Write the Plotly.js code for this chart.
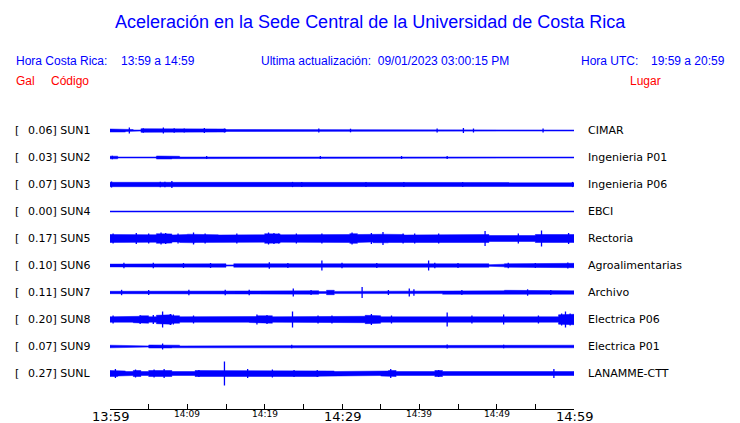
<!DOCTYPE html>
<html><head><meta charset="utf-8">
<script src="https://cdn.plot.ly/plotly-3.0.1.min.js"></script>
<style>html,body{margin:0;padding:0;background:#fff}#c{width:740px;height:423px}</style>
</head><body><div id="c"></div>
<script>
// ---- data ----
const codes  = ["SUN1","SUN2","SUN3","SUN4","SUN5","SUN6","SUN7","SUN8","SUN9","SUNL"];
const gal    = ["0.06","0.03","0.07","0.00","0.17","0.10","0.11","0.20","0.07","0.27"];
const places = ["CIMAR","Ingenieria P01","Ingenieria P06","EBCI","Rectoria","Agroalimentarias","Archivo","Electrica P06","Electrica P01","LANAMME-CTT"];
const tickMinutes = [0,5,10,15,20,25,30,35,40,45,50,55,60];
const majorLabels = ["13:59","14:29","14:59"], majorAt = [0,30,60];
const minorLabels = ["14:09","14:19","14:39","14:49"], minorAt = [10,20,40,50];

// per-minute envelope half-amplitude of each trace (display units)
const env_SUN1 = [1.5,1.5,1.0,0.5,1.8,1.8,1.8,1.6,1.2,1.6,1.8,1.6,1.8,1.6,1.5,1.0,0.8,0.9,1.0,1.0,0.8,0.9,0.6,1.0,1.0,0.9,0.8,1.0,0.6,0.6,0.5,0.8,0.9,0.9,0.6,0.8,0.6,0.9,1.0,0.9,1.0,0.8,0.9,0.5,0.5,0.6,1.2,1.2,1.0,0.5,0.9,0.6,0.8,0.9,0.9,0.9,1.0,0.9,0.9,0.5];
const env_SUN2 = [1.3,0.5,0.5,0.5,0.5,0.5,1.5,1.5,1.2,0.5,0.5,0.5,0.5,0.5,0.5,0.5,0.5,0.5,0.5,0.5,0.5,0.5,0.5,0.5,0.5,0.5,0.5,0.5,0.5,0.5,0.5,0.5,0.5,0.5,0.5,0.5,0.5,0.5,0.5,0.5,0.5,0.5,0.5,0.5,0.5,0.5,0.5,0.5,0.5,0.5,0.5,0.5,0.5,0.5,0.5,0.5,0.5,0.5,0.5,0.5];
const env_SUN3 = [2.2,2.0,2.0,2.0,2.0,2.0,2.4,2.4,2.2,2.0,2.0,2.0,2.0,2.0,2.0,2.0,2.0,2.0,2.0,2.0,2.0,2.0,2.0,2.0,2.0,2.0,2.0,2.0,2.0,2.0,2.0,2.0,2.0,2.0,2.0,2.0,2.0,2.0,2.0,2.0,2.0,2.0,2.0,2.0,2.0,2.0,2.0,2.0,2.0,2.0,2.0,2.0,2.0,2.0,2.0,2.0,2.0,2.0,2.0,2.0];
const env_SUN4 = [0.5,0.5,0.5,0.5,0.5,0.5,0.5,0.5,0.5,0.5,0.5,0.5,0.5,0.5,0.5,0.5,0.5,0.5,0.5,0.5,0.5,0.5,0.5,0.5,0.5,0.5,0.5,0.5,0.5,0.5,0.5,0.5,0.5,0.5,0.5,0.5,0.5,0.5,0.5,0.5,0.5,0.5,0.5,0.5,0.5,0.5,0.5,0.5,0.5,0.5,0.5,0.5,0.5,0.5,0.5,0.5,0.5,0.5,0.5,0.5];
const env_SUN5 = [4.0,3.8,3.5,4.0,4.0,3.7,4.8,4.6,3.5,4.0,4.3,4.0,3.7,3.7,3.5,3.7,4.0,4.0,3.5,3.7,4.8,4.6,3.7,3.5,3.8,3.5,3.3,4.0,4.0,3.5,4.0,4.8,4.0,3.5,4.2,4.3,4.0,4.0,3.5,4.0,3.8,3.5,3.8,3.5,3.3,3.5,3.3,3.3,4.0,3.0,3.0,3.3,3.5,3.3,3.0,4.0,3.5,3.3,4.0,4.0];
const env_SUN6 = [1.4,1.7,1.7,1.7,1.7,1.7,1.7,1.7,1.7,1.7,1.7,1.7,1.7,1.7,1.7,0.6,1.7,1.7,1.7,1.7,1.8,1.7,1.7,1.7,1.7,1.7,1.7,1.7,1.7,1.7,1.7,1.7,1.7,1.7,1.7,1.7,1.7,1.7,1.7,1.7,1.7,1.7,1.7,1.7,1.7,1.7,1.7,1.7,1.7,0.8,1.3,1.7,1.7,1.7,1.7,1.7,1.7,1.7,1.7,2.2];
const env_SUN7 = [1.2,1.2,1.4,1.2,1.2,1.5,1.7,1.7,1.7,1.7,1.7,1.7,1.7,1.7,1.7,1.7,1.7,1.7,1.7,1.7,1.7,1.7,1.7,1.7,1.7,1.7,1.7,0.9,2.2,1.1,1.7,1.7,1.7,1.7,1.7,1.7,1.7,1.7,1.7,1.7,1.7,1.7,1.1,1.7,1.7,1.7,1.7,1.7,1.7,1.7,1.7,2.2,1.7,1.7,1.7,1.7,1.7,1.7,1.7,1.7];
const env_SUN8 = [2.7,2.7,2.7,3.2,3.7,2.7,4.2,4.7,3.7,2.7,2.7,2.7,2.7,2.7,2.7,2.7,2.7,2.7,3.0,3.7,3.7,2.7,2.7,3.2,2.7,2.7,2.5,2.7,2.7,2.7,2.5,2.7,3.2,4.2,3.7,2.7,2.7,2.7,2.7,2.7,2.5,2.7,2.7,2.7,2.5,2.7,2.7,2.5,2.7,2.7,2.7,2.7,2.7,2.5,2.7,2.7,2.7,2.7,4.7,5.2];
const env_SUN9 = [1.3,0.9,0.6,0.6,0.6,1.5,1.5,1.5,1.3,0.6,1.2,0.9,1.0,0.6,1.2,1.1,0.6,0.6,1.3,1.3,1.2,0.6,0.6,1.2,0.6,0.6,1.0,1.0,0.6,0.6,0.6,0.6,0.6,1.2,0.6,1.2,0.6,1.0,0.6,0.6,1.0,0.6,1.0,0.6,0.6,0.6,0.6,1.2,0.6,0.6,1.0,1.2,0.6,1.0,1.0,1.0,0.6,0.6,1.3,1.3];
const env_SUNL = [3.0,2.5,2.0,3.0,2.0,3.0,3.0,3.0,2.0,2.0,2.0,3.0,3.0,2.3,3.0,2.7,3.0,3.0,2.7,3.0,3.0,3.0,3.0,3.0,2.5,3.0,3.0,2.7,2.5,2.0,2.0,2.0,2.0,2.0,2.0,2.5,3.0,2.0,2.0,2.0,2.0,2.0,3.0,2.0,2.0,2.0,2.0,2.0,2.0,2.0,2.0,2.0,2.0,2.0,2.0,2.0,2.0,2.5,2.0,2.0];

// isolated peaks: minute after 13:59 and half-amplitude
const pkT_SUN1 = [2.5,4.3,6.9,8.3,9.6,12.2,14.8,27.0,31.1,42.3,45.7,47.0,56.0];   const pkA_SUN1 = [3,2.2,3,2.2,2,2.5,2,2,1.8,2,2.5,2,2];
const pkT_SUN2 = [0.3,12.5,27.2,37.7,43.6];                      const pkA_SUN2 = [1.8,1.5,1.5,1.5,1.5];
const pkT_SUN3 = [0.2,6.5,7.1,8.0,23.6,24.8,33.1,38.0,45.6,59.8];     const pkA_SUN3 = [3,2.8,2.8,3.4,2.6,2.6,2.6,2.6,2.4,2.6];
const pkT_SUN4 = [];                                         const pkA_SUN4 = [];
const pkT_SUN5 = [0.4,3.4,5.0,6.6,7.2,8.8,10.8,12.3,16.4,20.5,21.2,21.8,24.1,27.4,31.3,33.8,35.3,37.9,39.4,42.5,48.5,52.8,55.8,59.3];
const pkA_SUN5 = [5,5.5,5,6,5.5,5,6,5,5,6,5.5,5,5,5,6,5.5,6.5,5,5,5,7.5,5,8,5.5];
const pkT_SUN6 = [1.8,5.6,9.5,13.0,20.6,23.0,27.4,30.0,34.5,41.2,42.0,45.0,51.5,55.0,59.2]; const pkA_SUN6 = [2.7,2.7,2.5,2.5,3.2,2.5,5,2.7,2.5,5,2.7,2.5,2.7,2.5,3];
const pkT_SUN7 = [1.5,5.0,10.2,14.9,18.0,23.7,26.0,32.6,36.0,38.7,39.3,45.5,54.0,57.0]; const pkA_SUN7 = [2.7,2.5,2.7,2.8,2.7,4,2.5,5.5,2.5,4,3.2,2.5,3.2,2.5];
const pkT_SUN8 = [0.4,3.9,5.6,6.8,7.8,8.2,10.8,19.0,20.3,23.6,26.9,28.7,33.8,36.4,43.6,46.8,50.9,55.4,58.4,58.9,59.5];
const pkA_SUN8 = [4,4.5,4.5,8,5.5,5,4,5,4.5,8,4,4,5.5,4,7,4,5,4,6,8,6];
const pkT_SUN9 = [6.8,23.5,43.6,50.9];                       const pkA_SUN9 = [3,1.8,2,1.8];
const pkT_SUNL = [0.7,3.3,5.7,7.0,11.5,14.8,17.8,21.0,23.8,26.8,36.3,42.5,57.4]; const pkA_SUNL = [4.5,4,4,4.5,3.5,12,4.5,4,3.5,3.5,4.5,3.5,4.5];

const envs = [env_SUN1,env_SUN2,env_SUN3,env_SUN4,env_SUN5,env_SUN6,env_SUN7,env_SUN8,env_SUN9,env_SUNL];
const pkTs = [pkT_SUN1,pkT_SUN2,pkT_SUN3,pkT_SUN4,pkT_SUN5,pkT_SUN6,pkT_SUN7,pkT_SUN8,pkT_SUN9,pkT_SUNL];
const pkAs = [pkA_SUN1,pkA_SUN2,pkA_SUN3,pkA_SUN4,pkA_SUN5,pkA_SUN6,pkA_SUN7,pkA_SUN8,pkA_SUN9,pkA_SUNL];

// ---- build ----
const W=740,H=423, L=110, R=574, T=115, B=409;
const rowTop = 130.5, rowGap = 27;
const BLUE = "#0000ff";
const px2x = p => (p - L)/(R - L);
const py2y = p => (B - p)/(B - T);

const traces = [];
envs.forEach((a, i) => {
  const c = rowTop + rowGap*i;
  const xs=[], ys=[];
  for (let m=0;m<a.length;m++){ xs.push(m, m+1); ys.push(c-a[m], c-a[m]); }
  for (let m=a.length-1;m>=0;m--){ xs.push(m+1, m); ys.push(c+a[m], c+a[m]); }
  xs.push(xs[0]); ys.push(ys[0]);
  traces.push({type:"scatter", mode:"lines", x:xs, y:ys, fill:"toself", fillcolor:BLUE,
               line:{color:BLUE, width:0.5}, hoverinfo:"skip", showlegend:false});
  const sx=[], sy=[];
  pkTs[i].forEach((t,k)=>{ sx.push(t,t,null); sy.push(c-pkAs[i][k], c+pkAs[i][k], null); });
  if (sx.length) traces.push({type:"scatter", mode:"lines", x:sx, y:sy, line:{color:BLUE, width:1.3},
               hoverinfo:"skip", showlegend:false});
});

const ann = [];
const A = (o) => ann.push(Object.assign({showarrow:false, xref:"paper", yref:"paper", borderpad:0}, o));
const HF = {family:"Liberation Sans, Arial, sans-serif", size:12, color:BLUE};
const RF = {family:"Liberation Sans, Arial, sans-serif", size:12, color:"#ff0000"};
const LF = {family:"DejaVu Sans, sans-serif", size:11, color:"#000"};

A({x:px2x(370), y:py2y(22), text:"Aceleración en la Sede Central de la Universidad de Costa Rica",
   xanchor:"center", yanchor:"middle", font:{family:"Liberation Sans, Arial, sans-serif", size:18, color:BLUE}});
A({x:px2x(15), y:py2y(61), text:"Hora Costa Rica:", xanchor:"left", yanchor:"middle", font:HF});
A({x:px2x(120), y:py2y(61), text:"13:59 a 14:59", xanchor:"left", yanchor:"middle", font:HF});
A({x:px2x(260), y:py2y(61), text:"Ultima actualización:  09/01/2023 03:00:15 PM", xanchor:"left", yanchor:"middle", font:HF});
A({x:px2x(580), y:py2y(61), text:"Hora UTC:", xanchor:"left", yanchor:"middle", font:HF});
A({x:px2x(650), y:py2y(61), text:"19:59 a 20:59", xanchor:"left", yanchor:"middle", font:HF});
A({x:px2x(15), y:py2y(81), text:"Gal", xanchor:"left", yanchor:"middle", font:RF});
A({x:px2x(50), y:py2y(81), text:"Código", xanchor:"left", yanchor:"middle", font:RF});
A({x:px2x(629), y:py2y(81), text:"Lugar", xanchor:"left", yanchor:"middle", font:RF});

codes.forEach((cd,i)=>{
  const yy = py2y(rowTop + rowGap*i);
  A({x:px2x(14), y:yy, text:"[", xanchor:"left", yanchor:"middle", font:LF});
  A({x:px2x(27), y:yy, text:gal[i]+"] "+cd, xanchor:"left", yanchor:"middle", font:LF});
  A({x:px2x(587), y:yy, text:places[i], xanchor:"left", yanchor:"middle", font:LF});
});
majorLabels.forEach((t,k)=>A({xref:"x", x:majorAt[k], y:py2y(416), text:t, xanchor:"center", yanchor:"middle",
   font:{family:"DejaVu Sans, sans-serif", size:13, color:"#000"}}));
minorLabels.forEach((t,k)=>A({xref:"x", x:minorAt[k], y:py2y(414), text:t, xanchor:"center", yanchor:"middle",
   font:{family:"DejaVu Sans, sans-serif", size:9, color:"#000"}}));

const layout = {
  width:W, height:H, margin:{l:L, r:W-R, t:T, b:H-B, pad:0},
  paper_bgcolor:"#fff", plot_bgcolor:"#fff", showlegend:false,
  xaxis:{range:[0,60], showgrid:false, zeroline:false, showline:true, linecolor:"#000", linewidth:1,
         ticks:"inside", ticklen:5, tickcolor:"#000", tickwidth:1, tickvals:tickMinutes,
         showticklabels:false, fixedrange:true},
  yaxis:{range:[B,T], showgrid:false, zeroline:false, showline:false, showticklabels:false, ticks:"", fixedrange:true},
  annotations:ann
};
Plotly.newPlot("c", traces, layout, {staticPlot:true, displayModeBar:false});
</script></body></html>
